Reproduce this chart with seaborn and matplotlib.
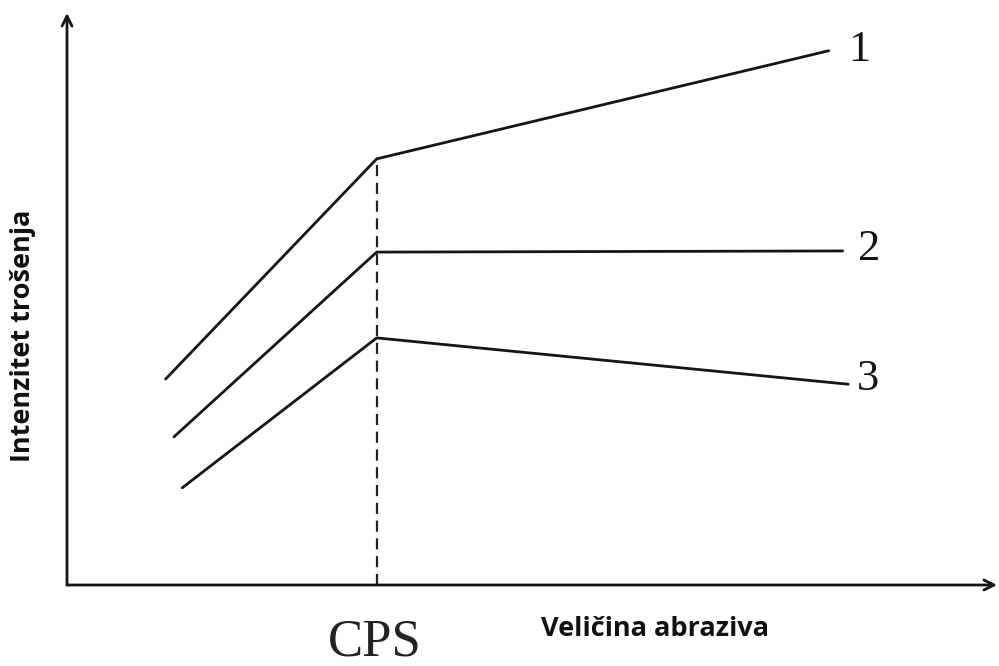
import numpy as np
import pandas as pd
import matplotlib
matplotlib.use("Agg")
import matplotlib.pyplot as plt
import seaborn as sns

# Data (schematic units)
x_points = [[10.6, 33.3, 81.9], [11.5, 33.3, 83.4], [12.4, 33.3, 84.0]]
y_points = [[36.0, 74.5, 93.4], [25.9, 58.2, 58.4], [17.0, 43.2, 35.1]]
series_labels = ["1", "2", "3"]
cps_x = 33.3
cps_top = 74.5
label_pos_x = [84.0, 85.1, 84.9]
label_pos_y = [93.6, 58.8, 36.0]
x_label = "Veličina abraziva"
y_label = "Intenzitet trošenja"
cps_label = "CPS"

sns.set_theme(style="white")
plt.rcParams['font.family'] = ['Open Sans', 'DejaVu Sans']

rows = []
for lab, xs, ys in zip(series_labels, x_points, y_points):
    for xv, yv in zip(xs, ys):
        rows.append({"x": xv, "y": yv, "s": lab})
df = pd.DataFrame(rows)

fig = plt.figure(figsize=(9.99, 6.66), dpi=100)
W, H = 999, 666
ax = fig.add_axes([67 / W, (H - 585) / H, (997 - 67) / W, (585 - 13) / H])
ax.set_xlim(0, 100)
ax.set_ylim(0, 100)

sns.lineplot(data=df, x="x", y="y", hue="s", palette=["#151515"] * 3,
             linewidth=2.0, legend=False, sort=False, estimator=None, ax=ax)

ax.plot([cps_x, cps_x], [0, cps_top], color="#222222", linewidth=1.6,
        linestyle=(0, (5, 3)))

for lab, lx, ly in zip(series_labels, label_pos_x, label_pos_y):
    ax.text(lx, ly, lab, fontsize=32, family=['Liberation Serif'],
            ha="left", va="center", color="#151515")

for s in ax.spines.values():
    s.set_visible(False)
ax.set_xticks([])
ax.set_yticks([])
ax.set_xlabel("")
ax.set_ylabel("")

# axes with arrows
ax.annotate("", xy=(1.0, 0), xytext=(0, 0), xycoords="axes fraction",
            textcoords="axes fraction",
            arrowprops=dict(arrowstyle="->,head_length=0.6,head_width=0.3",
                            color="#151515", lw=2.0, shrinkA=0, shrinkB=0))
ax.annotate("", xy=(0, 1.0), xytext=(0, 0), xycoords="axes fraction",
            textcoords="axes fraction",
            arrowprops=dict(arrowstyle="->,head_length=0.6,head_width=0.3",
                            color="#151515", lw=2.0, shrinkA=0, shrinkB=0))

fig.text(375 / W, 1 - 656 / H, cps_label, fontsize=38, family=['Liberation Serif'],
         ha="center", va="baseline", color="#222222")
fig.text(655 / W, 1 - 636 / H, x_label, fontsize=19.5, fontweight="bold",
         ha="center", va="baseline", color="#111111")
fig.text(30 / W, 1 - 336 / H, y_label, fontsize=19.5, fontweight="bold",
         rotation=90, rotation_mode="anchor", ha="center", va="baseline",
         color="#111111")

fig.savefig("out.png", dpi=100)
